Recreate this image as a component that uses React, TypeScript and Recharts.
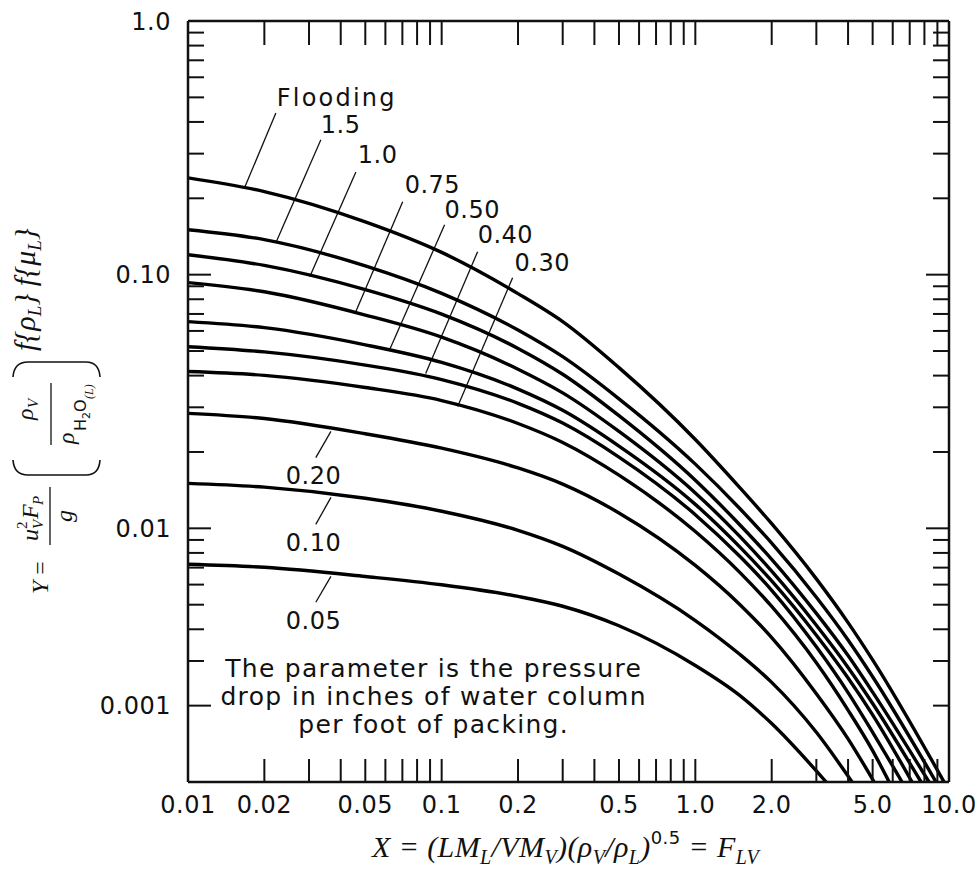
import React from "react";
import { LineChart, Line, XAxis, YAxis, ReferenceLine, ReferenceDot } from "recharts";

// generalized pressure drop correlation, log-log
const X_TICKS = [
  0.01, 0.02, 0.03, 0.04, 0.05, 0.06, 0.07, 0.08, 0.09,
  0.1, 0.2, 0.3, 0.4, 0.5, 0.6, 0.7, 0.8, 0.9,
  1, 2, 3, 4, 5, 6, 7, 8, 9, 10,
];
const X_TICK_LABELS: Record<string, string> = {
  "0.01": "0.01", "0.02": "0.02", "0.05": "0.05", "0.1": "0.1", "0.2": "0.2",
  "0.5": "0.5", "1": "1.0", "2": "2.0", "5": "5.0", "10": "10.0",
};
const Y_TICKS = [
  0.002, 0.003, 0.004, 0.005, 0.006, 0.007, 0.008, 0.009,
  0.01, 0.02, 0.03, 0.04, 0.05, 0.06, 0.07, 0.08, 0.09,
  0.1, 0.2, 0.3, 0.4, 0.5, 0.6, 0.7, 0.8, 0.9, 1,
];
// the printed chart puts its "0.001" label on the 0.002 tick
const Y_TICK_LABELS: Record<string, string> = { "1": "1.0", "0.1": "0.10", "0.01": "0.01", "0.002": "0.001" };
const Y_LONG_LEFT = [0.1, 0.01, 0.002];
const Y_LONG_RIGHT = [0.1, 0.01];

// curves: [X, Y]
const FLOODING = [[0.01, 0.2409], [0.02, 0.2126], [0.05, 0.1615], [0.1, 0.1224], [0.2, 0.0842], [0.3, 0.0653], [0.5, 0.043], [1, 0.0224], [1.5, 0.01444], [2, 0.01043], [3, 0.00632], [4, 0.00425], [5, 0.00303], [9.56, 0.001]];
const DP_1_5 = [[0.01, 0.1504], [0.02, 0.1375], [0.05, 0.1083], [0.1, 0.0844], [0.2, 0.0605], [0.3, 0.0475], [0.5, 0.0324], [1, 0.01791], [1.5, 0.01195], [2, 0.00874], [3, 0.00535], [4, 0.00363], [5, 0.0026], [8.89, 0.001]];
const DP_1_0 = [[0.01, 0.1198], [0.02, 0.1088], [0.05, 0.0873], [0.1, 0.0699], [0.2, 0.0512], [0.3, 0.0405], [0.5, 0.0278], [1, 0.01547], [1.5, 0.01031], [2, 0.00755], [3, 0.00462], [4, 0.00315], [5, 0.00226], [8.34, 0.001]];
const DP_0_75 = [[0.01, 0.093], [0.02, 0.0856], [0.05, 0.0693], [0.1, 0.0567], [0.2, 0.0424], [0.3, 0.0342], [0.5, 0.0241], [1, 0.01379], [1.5, 0.00927], [2, 0.00678], [3, 0.00415], [4, 0.00283], [5, 0.00204], [7.76, 0.001]];
const DP_0_50 = [[0.01, 0.0653], [0.02, 0.0618], [0.05, 0.0529], [0.1, 0.0451], [0.2, 0.0354], [0.3, 0.0292], [0.5, 0.0211], [1, 0.01243], [1.5, 0.00843], [2, 0.0062], [3, 0.00379], [4, 0.00257], [5, 0.00184], [7.15, 0.001]];
const DP_0_40 = [[0.01, 0.052], [0.02, 0.0496], [0.05, 0.044], [0.1, 0.0386], [0.2, 0.0311], [0.3, 0.026], [0.5, 0.0191], [1, 0.01132], [1.5, 0.00774], [2, 0.0057], [3, 0.00341], [4, 0.00225], [5, 0.00157], [6.53, 0.001]];
const DP_0_30 = [[0.01, 0.0415], [0.02, 0.0401], [0.05, 0.0359], [0.1, 0.0319], [0.2, 0.0259], [0.3, 0.0218], [0.5, 0.0162], [1, 0.00971], [1.5, 0.00669], [2, 0.00492], [3, 0.00295], [4, 0.00192], [5, 0.00133], [5.81, 0.001]];
const DP_0_20 = [[0.01, 0.0284], [0.02, 0.0271], [0.05, 0.0236], [0.1, 0.0207], [0.2, 0.0173], [0.3, 0.01494], [0.5, 0.0115], [1, 0.00714], [1.5, 0.005], [2, 0.00371], [3, 0.00223], [4, 0.00148], [5.07, 0.001]];
const DP_0_10 = [[0.01, 0.01504], [0.02, 0.01453], [0.05, 0.01314], [0.1, 0.01168], [0.2, 0.00982], [0.3, 0.00849], [0.5, 0.0066], [1, 0.00433], [1.5, 0.00318], [2, 0.00247], [3, 0.00157], [4.15, 0.001]];
const DP_0_05 = [[0.01, 0.00722], [0.02, 0.00702], [0.05, 0.00646], [0.1, 0.00599], [0.2, 0.00539], [0.3, 0.00493], [0.5, 0.00413], [1, 0.00288], [1.5, 0.00219], [2, 0.0017], [3.28, 0.001]];

const CURVES = [FLOODING, DP_1_5, DP_1_0, DP_0_75, DP_0_50, DP_0_40, DP_0_30, DP_0_20, DP_0_10, DP_0_05];
const CURVE_LABELS = ["Flooding", "1.5", "1.0", "0.75", "0.50", "0.40", "0.30", "0.20", "0.10", "0.05"];
// label text start (x, baseline y) and leader line ends, in data units
const LABEL_POS = [[0.0224, 0.463], [0.0334, 0.362], [0.0467, 0.276], [0.0715, 0.21], [0.1027, 0.168], [0.1386, 0.1337], [0.1938, 0.1037], [0.0243, 0.0149], [0.0243, 0.00812], [0.0243, 0.004]];
const LEADERS = [
  [[0.0222, 0.434], [0.01677, 0.222]],
  [[0.0334, 0.34], [0.0222, 0.1337]],
  [[0.0459, 0.254], [0.0302, 0.0982]],
  [[0.0702, 0.1938], [0.0455, 0.0702]],
  [[0.1027, 0.1573], [0.0624, 0.0507]],
  [[0.1386, 0.1232], [0.0865, 0.0408]],
  [[0.1904, 0.0973], [0.1156, 0.0302]],
  [[0.0366, 0.0241], [0.0319, 0.019]],
  [[0.0366, 0.01324], [0.0319, 0.01037]],
  [[0.0366, 0.00647], [0.0319, 0.00511]],
];
const NOTE_LINES = ["The parameter is the pressure", "drop in inches of water column", "per foot of packing."];
const NOTE_X = 0.093;
const NOTE_Y = [0.00259, 0.00201, 0.00156];

const SANS = "'DejaVu Sans', 'Noto Sans', sans-serif";
const SERIF = "'Liberation Serif', 'DejaVu Serif', serif";
const INK = "#111";

const BottomTick = (p: any) => {
  const label = X_TICK_LABELS[String(p.payload.value)];
  return (
    <g>
      <line x1={p.x} x2={p.x} y1={p.y} y2={p.y - 23} stroke={INK} strokeWidth={2} />
      {label && (
        <text x={p.x} y={p.y + 31} textAnchor="middle" fontFamily={SANS} fontSize={24} letterSpacing={0.5} fill={INK}>
          {label}
        </text>
      )}
    </g>
  );
};

const TopTick = (p: any) => (
  <line x1={p.x} x2={p.x} y1={p.y} y2={p.y + 24} stroke={INK} strokeWidth={2} />
);

const LeftTick = (p: any) => {
  const v = p.payload.value;
  const label = Y_TICK_LABELS[String(v)];
  const len = Y_LONG_LEFT.includes(v) ? 23 : 16;
  return (
    <g>
      <line x1={p.x} x2={p.x + len} y1={p.y} y2={p.y} stroke={INK} strokeWidth={2} />
      {label && (
        <text x={p.x - 17} y={p.y + 8.5} textAnchor="end" fontFamily={SANS} fontSize={24} letterSpacing={0.5} fill={INK}>
          {label}
        </text>
      )}
    </g>
  );
};

const RightTick = (p: any) => {
  const len = Y_LONG_RIGHT.includes(p.payload.value) ? 23 : 16;
  return <line x1={p.x} x2={p.x - len} y1={p.y} y2={p.y} stroke={INK} strokeWidth={2} />;
};

function AxisTitles() {
  return (
    <svg width={980} height={869} style={{ position: "absolute", left: 0, top: 0, pointerEvents: "none" }}>
      <text x={372} y={857} fontFamily={SERIF} fontSize={30} letterSpacing={0.4} fontStyle="italic" fill={INK}>
        <tspan>{"X = (LM"}</tspan>
        <tspan fontSize={20} dy={7}>L</tspan>
        <tspan dy={-7}>{"/VM"}</tspan>
        <tspan fontSize={20} dy={7}>V</tspan>
        <tspan dy={-7}>{")(ρ"}</tspan>
        <tspan fontSize={20} dy={7}>V</tspan>
        <tspan dy={-7}>{"/ρ"}</tspan>
        <tspan fontSize={20} dy={7}>L</tspan>
        <tspan dy={-7}>{")"}</tspan>
        <tspan fontSize={18} dy={-13} fontFamily={SANS} fontStyle="normal">0.5</tspan>
        <tspan dy={13}>{" = F"}</tspan>
        <tspan fontSize={20} dy={7}>LV</tspan>
      </text>
      <g transform="rotate(-90)" fontFamily={SERIF} fontStyle="italic" fill={INK}>
        <text x={-594} y={48} fontSize={24}>
          Y <tspan fontStyle="normal">=</tspan>
        </text>
        <text x={-541} y={38} fontSize={24}>u</text>
        <text x={-529} y={27} fontSize={15} fontStyle="normal">2</text>
        <text x={-529} y={43} fontSize={15}>V</text>
        <text x={-519} y={38} fontSize={24}>F</text>
        <text x={-505} y={43} fontSize={15}>P</text>
        <line x1={-545} x2={-487} y1={50} y2={50} stroke={INK} strokeWidth={1.3} />
        <text x={-516} y={72} fontSize={24} textAnchor="middle">g</text>
        <path d="M -460 13 Q -475 14 -475 28 L -475 86 Q -475 99 -460 100" fill="none" stroke={INK} strokeWidth={1.6} />
        <text x={-420} y={33} fontSize={24}>ρ</text>
        <text x={-408} y={38} fontSize={15}>V</text>
        <line x1={-445} x2={-383} y1={51} y2={51} stroke={INK} strokeWidth={1.3} />
        <text x={-444} y={74} fontSize={24}>ρ</text>
        <text x={-431} y={86} fontSize={16} fontFamily={SANS} fontStyle="normal">H</text>
        <text x={-419} y={90} fontSize={11} fontFamily={SANS} fontStyle="normal">2</text>
        <text x={-412} y={86} fontSize={16} fontFamily={SANS} fontStyle="normal">O</text>
        <text x={-399} y={93} fontSize={12}>(L)</text>
        <path d="M -377 13 Q -362 14 -362 28 L -362 86 Q -362 99 -377 100" fill="none" stroke={INK} strokeWidth={1.6} />
        <text x={-351} y={35} fontSize={30}>
          <tspan>{"f{ρ"}</tspan>
          <tspan fontSize={19} dy={6}>L</tspan>
          <tspan dy={-6}>{"}  f{μ"}</tspan>
          <tspan fontSize={19} dy={6}>L</tspan>
          <tspan dy={-6}>{"}"}</tspan>
        </text>
      </g>
    </svg>
  );
}

export default function App() {
  return (
    <div style={{ position: "absolute", left: 0, top: 0, width: 980, height: 869, background: "#fff" }}>
      <LineChart width={980} height={869} margin={{ top: 0, right: 0, bottom: 0, left: 0 }}>
        <XAxis
          xAxisId="b" dataKey="x" type="number" scale="log" domain={[0.01, 10]} allowDataOverflow
          ticks={X_TICKS} interval={0} height={87} tickSize={0} tickMargin={0}
          tick={BottomTick} axisLine={{ stroke: INK, strokeWidth: 2.5 }} tickLine={false}
        />
        <XAxis
          xAxisId="t" orientation="top" dataKey="x" type="number" scale="log" domain={[0.01, 10]} allowDataOverflow
          ticks={X_TICKS} interval={0} height={21} tickSize={0} tickMargin={0}
          tick={TopTick} axisLine={{ stroke: INK, strokeWidth: 2.5 }} tickLine={false}
        />
        <YAxis
          yAxisId="l" type="number" scale="log" domain={[0.001, 1]} allowDataOverflow
          ticks={Y_TICKS} interval={0} width={188} tickSize={0} tickMargin={0}
          tick={LeftTick} axisLine={{ stroke: INK, strokeWidth: 2.5 }} tickLine={false}
        />
        <YAxis
          yAxisId="r" orientation="right" type="number" scale="log" domain={[0.001, 1]} allowDataOverflow
          ticks={Y_TICKS} interval={0} width={31} tickSize={0} tickMargin={0}
          tick={RightTick} axisLine={{ stroke: INK, strokeWidth: 2.5 }} tickLine={false}
        />
        {LEADERS.map((seg, i) => (
          <ReferenceLine
            key={"ld" + i} xAxisId="b" yAxisId="l"
            segment={[{ x: seg[0][0], y: seg[0][1] }, { x: seg[1][0], y: seg[1][1] }]}
            stroke={INK} strokeWidth={1.3}
          />
        ))}
        {CURVES.map((pts, i) => (
          <Line
            key={CURVE_LABELS[i]} xAxisId="b" yAxisId="l" name={CURVE_LABELS[i]}
            data={pts.map(([x, y]) => ({ x, y }))} dataKey="y" type="monotone"
            stroke="#000" strokeWidth={3.4} dot={false} isAnimationActive={false}
          />
        ))}
        {CURVE_LABELS.map((lab, i) => (
          <ReferenceDot
            key={"lb" + i} xAxisId="b" yAxisId="l" x={LABEL_POS[i][0]} y={LABEL_POS[i][1]} r={0}
            shape={(p: any) => (
              <text x={p.cx} y={p.cy} fontFamily={SANS} fontSize={24} letterSpacing={lab === "Flooding" ? 2.2 : 0.5} fill={INK}>
                {lab}
              </text>
            )}
          />
        ))}
        {NOTE_LINES.map((line, i) => (
          <ReferenceDot
            key={"nt" + i} xAxisId="b" yAxisId="l" x={NOTE_X} y={NOTE_Y[i]} r={0}
            shape={(p: any) => (
              <text x={p.cx} y={p.cy} textAnchor="middle" fontFamily={SANS} fontSize={25} letterSpacing={1.3} fill={INK}>
                {line}
              </text>
            )}
          />
        ))}
      </LineChart>
      <AxisTitles />
    </div>
  );
}
